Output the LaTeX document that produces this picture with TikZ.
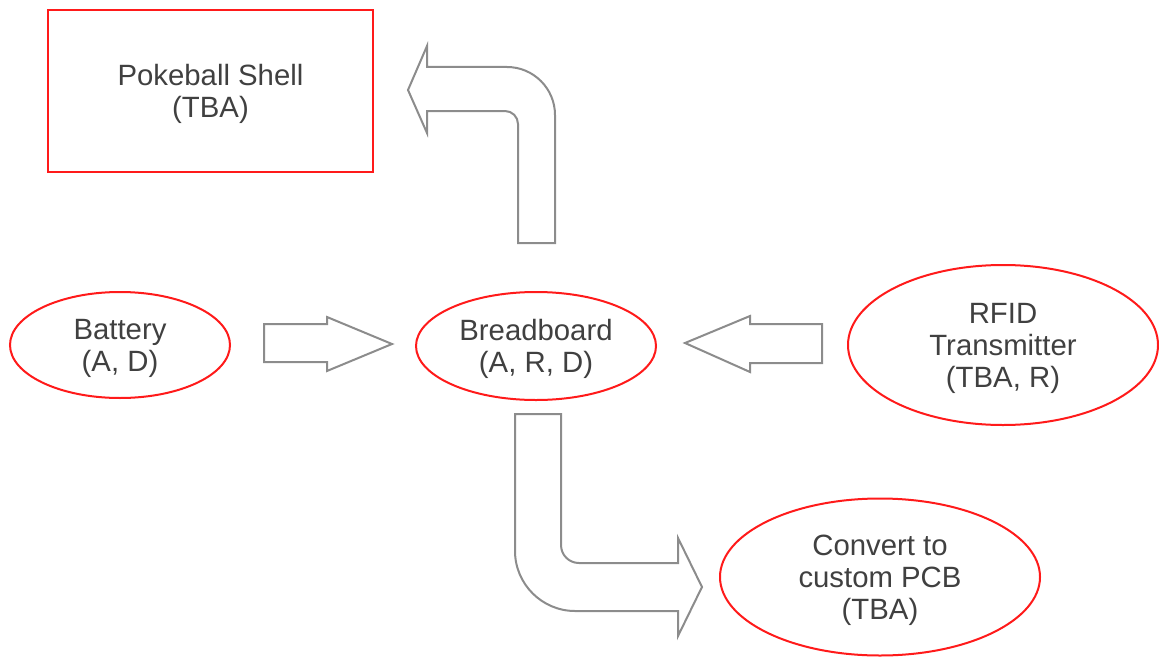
\documentclass[tikz,border=0pt]{standalone}
\usepackage{fontspec}
\setmainfont{Liberation Sans}
\usetikzlibrary{shapes.geometric}
\definecolor{boxred}{HTML}{FF1A1A}
\definecolor{arrgray}{HTML}{8C8C8C}
\definecolor{txtgray}{HTML}{404040}
\tikzset{
  lbl/.style={text=txtgray, align=center, inner sep=0pt, text depth=0pt, font=\fontsize{22}{24}\selectfont},
  redell/.style={lbl, ellipse, draw=boxred, line width=1.5pt},
  redbox/.style={lbl, rectangle, draw=boxred, line width=1.5pt},
  blockarrow/.style={draw=arrgray, line width=1.5pt, fill=white, line join=miter}
}
\begin{document}
\begin{tikzpicture}[x=0.75pt,y=-0.75pt]
\path[use as bounding box] (0,0) rectangle (1159,660);
% nodes
\node[redbox, minimum width=243.75pt, minimum height=121.5pt] (shell) at (210.5,91) {Pokeball Shell\\(TBA)};
\node[redell, minimum width=165pt, minimum height=79.5pt] (battery) at (120,345) {Battery\\(A, D)};
\node[redell, minimum width=180pt, minimum height=81pt] (bread) at (536,346) {Breadboard\\(A, R, D)};
\node[redell, minimum width=232.5pt, minimum height=120pt] (rfid) at (1003,345) {RFID\\Transmitter\\(TBA, R)};
\node[redell, minimum width=240pt, minimum height=117.75pt] (pcb) at (880,577) {Convert to\\custom PCB\\(TBA)};
% block arrows
\draw[blockarrow] (264,324) -- (327,324) -- (327,317) -- (392,344) -- (327,371) -- (327,362) -- (264,362) -- cycle;
\draw[blockarrow] (822,324) -- (750,324) -- (750,316) -- (685,343) -- (750,372) -- (750,363) -- (822,363) -- cycle;
\draw[blockarrow] (518,243) -- (555,243) -- (555,115) .. controls (555,88.5) and (533.5,67) .. (507,67) -- (427,67) -- (427,46) -- (408,90) -- (427,133) -- (427,111) -- (505,111) .. controls (512.2,111) and (518,116.8) .. (518,124) -- cycle;
\draw[blockarrow] (515,414) -- (561,414) -- (561,545) .. controls (561,555) and (569,563) .. (579,563) -- (678,563) -- (678,538) -- (702,587) -- (678,636) -- (678,611) -- (575,611) .. controls (542,611) and (515,584) .. (515,551) -- cycle;
\end{tikzpicture}
\end{document}
